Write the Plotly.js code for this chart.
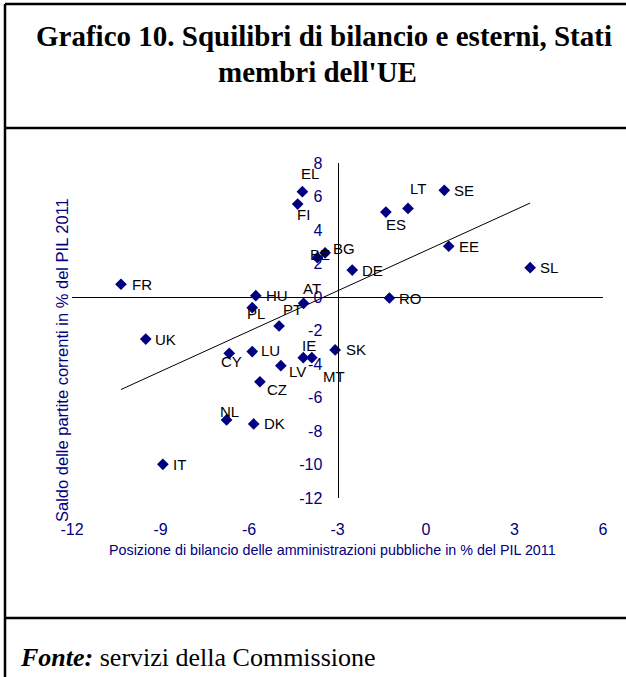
<!DOCTYPE html>
<html>
<head>
<meta charset="utf-8">
<script src="https://cdn.plot.ly/plotly-3.0.1.min.js"></script>
<style>
  html, body { margin: 0; padding: 0; background: #ffffff; }
  #chart { width: 626px; height: 677px; }
</style>
</head>
<body>
<div id="chart"></div>
<script>
// ---- Data ----
const countries = ['BE','BG','CZ','DK','DE','EE','IE','EL','ES','FR','IT','CY','LV','LT','LU','HU','MT','NL','AT','PL','PT','RO','SL','SK','FI','SE','UK'];
// Posizione di bilancio delle amministrazioni pubbliche (% PIL 2011)
const budgetBalance = [-3.68,-3.42,-5.63,-5.84,-2.50,0.77,-4.16,-4.19,-1.36,-10.34,-8.92,-6.67,-4.92,-0.61,-5.89,-5.77,-3.87,-6.76,-4.15,-5.89,-4.98,-1.24,3.53,-3.08,-4.35,0.62,-9.50];
// Saldo delle partite correnti (% PIL 2011)
const currentAccount = [2.35,2.64,-5.06,-7.58,1.61,3.03,-3.62,6.29,5.07,0.76,-9.99,-3.36,-4.10,5.29,-3.26,0.08,-3.62,-7.34,-0.38,-0.64,-1.73,-0.06,1.75,-3.16,5.55,6.37,-2.51];
const xTicks = [-12,-9,-6,-3,0,3,6];
const yTicks = [-12,-10,-8,-6,-4,-2,0,2,4,6,8];

// ---- Label placement (style only: pixel offsets of each label from its marker) ----
const labelOffsets = {
  BE:[3,-3], BG:[18.5,-4], CZ:[17.5,8], DK:[20.5,0], DE:[20,0], EE:[20,0], IE:[5.5,-12],
  EL:[8,-18], ES:[10,12.5], FR:[21,0], IT:[17,0], CY:[2,8.5], LV:[17,5.5], LT:[10,-20],
  LU:[18,-1], HU:[21,0], MT:[22.5,18.6], NL:[2.5,-8], AT:[8,-15], PL:[3.5,6], PT:[13,-16],
  RO:[21.5,0], SL:[19,0], SK:[21,0], FI:[6,10], SE:[20,0], UK:[20,0]
};

// ---- Linear trend (least squares on the data) ----
const n = budgetBalance.length;
const mx = budgetBalance.reduce((a,b)=>a+b,0)/n;
const my = currentAccount.reduce((a,b)=>a+b,0)/n;
let sxy = 0, sxx = 0;
for (let i=0;i<n;i++){ sxy += (budgetBalance[i]-mx)*(currentAccount[i]-my); sxx += (budgetBalance[i]-mx)**2; }
const slope = sxy/sxx, intercept = my - slope*mx;
const xmin = Math.min(...budgetBalance), xmax = Math.max(...budgetBalance);

// ---- Geometry helpers (page pixels -> paper coords) ----
const W = 626, H = 677;
const M = {l:72, r:23, t:163, b:179};
const PW = W - M.l - M.r, PH = H - M.t - M.b;
const px = v => (v - M.l)/PW;
const py = v => (H - M.b - v)/PH;

const NAVY = '#000080';
const SANS = 'Liberation Sans, Arial, sans-serif';
const SERIF = 'Liberation Serif, Times New Roman, serif';

const traces = [
  {
    x: [xmin, xmax],
    y: [intercept + slope*xmin, intercept + slope*xmax],
    mode: 'lines', type: 'scatter',
    line: {color: '#000000', width: 1},
    hoverinfo: 'skip'
  },
  {
    x: budgetBalance, y: currentAccount,
    mode: 'markers', type: 'scatter',
    marker: {symbol: 'diamond', size: 9, color: NAVY, line: {width: 0}},
    text: countries, hoverinfo: 'text'
  }
];

const annotations = countries.map((c,i)=>({
  x: budgetBalance[i], y: currentAccount[i], xref:'x', yref:'y',
  text: c, showarrow: false, xanchor:'center', yanchor:'middle',
  xshift: labelOffsets[c][0], yshift: -labelOffsets[c][1],
  font: {family: SANS, size: 15, color: '#000000'}
}));

annotations.push(
  {xref:'paper', yref:'paper', x: px(324), y: py(36), text:"<b>Grafico 10. Squilibri di bilancio e esterni, Stati</b>",
   showarrow:false, xanchor:'center', yanchor:'middle', font:{family:SERIF, size:29, color:'#000'}},
  {xref:'paper', yref:'paper', x: px(317), y: py(72), text:"<b>membri dell'UE</b>",
   showarrow:false, xanchor:'center', yanchor:'middle', font:{family:SERIF, size:29, color:'#000'}},
  {xref:'paper', yref:'paper', x: px(18), y: py(657), text:"<b><i>Fonte:</i></b> servizi della Commissione",
   showarrow:false, xanchor:'left', yanchor:'middle', font:{family:SERIF, size:26, color:'#000'}},
  {xref:'paper', yref:'paper', x: px(332), y: py(550), text:"Posizione di bilancio delle amministrazioni pubbliche in % del PIL 2011",
   showarrow:false, xanchor:'center', yanchor:'middle', font:{family:SANS, size:14.3, color:NAVY}},
  {xref:'paper', yref:'paper', x: px(62), y: py(360), text:"Saldo delle partite correnti in % del PIL 2011", textangle:-90,
   showarrow:false, xanchor:'center', yanchor:'middle', font:{family:SANS, size:16.5, color:NAVY}}
);

const frame = {color:'#000000', width:2.5};
const shapes = [
  {type:'line', xref:'paper', yref:'paper', x0:px(5), x1:px(5), y0:py(677), y1:py(4), line:frame},
  {type:'line', xref:'paper', yref:'paper', x0:px(5), x1:px(626), y0:py(4), y1:py(4), line:frame},
  {type:'line', xref:'paper', yref:'paper', x0:px(5), x1:px(626), y0:py(128), y1:py(128), line:frame},
  {type:'line', xref:'paper', yref:'paper', x0:px(5), x1:px(626), y0:py(618), y1:py(618), line:frame}
];

const layout = {
  width: W, height: H,
  margin: M,
  paper_bgcolor: '#ffffff', plot_bgcolor: '#ffffff',
  showlegend: false,
  hovermode: false,
  xaxis: {
    range: [-12, 6], tickvals: xTicks, ticktext: xTicks.map(String),
    showgrid: false, zeroline: false, showline: false, ticks: '',
    ticklabelstandoff: 20, automargin: false,
    tickfont: {family: SANS, size: 16, color: NAVY}
  },
  yaxis: {
    range: [-12, 8], tickvals: yTicks, ticktext: yTicks.map(String),
    anchor: 'free', position: 0.5,
    showgrid: false, showline: true, linecolor: '#000000', linewidth: 1,
    zeroline: true, zerolinecolor: '#000000', zerolinewidth: 1,
    ticks: '', ticklabelstandoff: 12, automargin: false,
    tickfont: {family: SANS, size: 16, color: NAVY}
  },
  annotations: annotations,
  shapes: shapes
};

Plotly.newPlot('chart', traces, layout, {displayModeBar: false, staticPlot: true});
</script>
</body>
</html>
